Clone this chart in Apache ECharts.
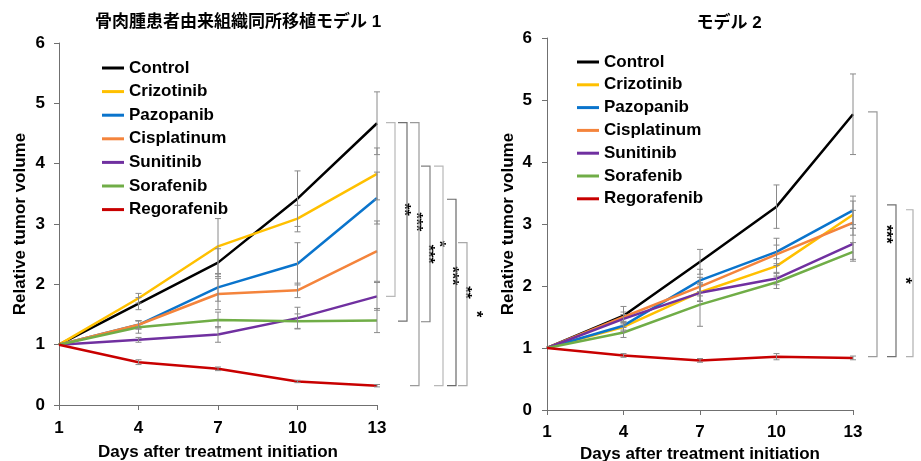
<!DOCTYPE html>
<html>
<head>
<meta charset="utf-8">
<script src="https://cdn.jsdelivr.net/npm/echarts@6/dist/echarts.min.js"></script>
<style>html,body{margin:0;padding:0;background:#fff}#c{width:921px;height:461px}</style>
</head>
<body>
<div id="c"></div>
<script>
// ---------- data ----------
const days = ['1', '4', '7', '10', '13'];
const names = ['Control', 'Crizotinib', 'Pazopanib', 'Cisplatinum', 'Sunitinib', 'Sorafenib', 'Regorafenib'];
const title1 = '骨肉腫患者由来組織同所移植モデル 1';
const title2 = 'モデル 2';
const xName = 'Days after treatment initiation';
const yName = 'Relative tumor volume';

// model 1 means
const m1Control     = [1, 1.68, 2.36, 3.42, 4.67];
const m1Crizotinib  = [1, 1.77, 2.63, 3.09, 3.83];
const m1Pazopanib   = [1, 1.33, 1.95, 2.34, 3.43];
const m1Cisplatinum = [1, 1.33, 1.84, 1.90, 2.55];
const m1Sunitinib   = [1, 1.08, 1.17, 1.44, 1.80];
const m1Sorafenib   = [1, 1.29, 1.41, 1.39, 1.40];
const m1Regorafenib = [1, 0.71, 0.60, 0.39, 0.32];
// model 1 error (±)
const m1ControlErr     = [0, 0.10, 0.23, 0.46, 0.52];
const m1CrizotinibErr  = [0, 0.08, 0.46, 0.22, 0.43];
const m1PazopanibErr   = [0, 0.07, 0.23, 0.35, 0.43];
const m1CisplatinumErr = [0, 0.07, 0.26, 0.12, 0.50];
const m1SunitinibErr   = [0, 0.04, 0.13, 0.18, 0.23];
const m1SorafenibErr   = [0, 0.10, 0.13, 0.12, 0.20];
const m1RegorafenibErr = [0, 0.04, 0.03, 0.02, 0.02];

// model 2 means
const m2Control     = [1, 1.52, 2.39, 3.28, 4.77];
const m2Crizotinib  = [1, 1.34, 1.90, 2.32, 3.15];
const m2Pazopanib   = [1, 1.36, 2.09, 2.55, 3.22];
const m2Cisplatinum = [1, 1.50, 1.99, 2.51, 3.02];
const m2Sunitinib   = [1, 1.47, 1.89, 2.12, 2.68];
const m2Sorafenib   = [1, 1.25, 1.70, 2.06, 2.55];
const m2Regorafenib = [1, 0.88, 0.80, 0.86, 0.84];
// model 2 error (±)
const m2ControlErr     = [0, 0.15, 0.20, 0.35, 0.65];
const m2CrizotinibErr  = [0, 0.07, 0.15, 0.12, 0.22];
const m2PazopanibErr   = [0, 0.07, 0.18, 0.22, 0.23];
const m2CisplatinumErr = [0, 0.08, 0.15, 0.15, 0.20];
const m2SunitinibErr   = [0, 0.07, 0.13, 0.10, 0.25];
const m2SorafenibErr   = [0, 0.08, 0.35, 0.10, 0.15];
const m2RegorafenibErr = [0, 0.03, 0.03, 0.05, 0.03];

// significance brackets (values at day 13)
const m1BracketTop    = [4.68, 4.68, 4.68, 3.96, 3.96, 3.41, 2.69];
const m1BracketBottom = [1.80, 1.39, 0.32, 1.38, 0.32, 0.32, 0.32];
const m1BracketLabel  = ['**', '***', '***', '*', '***', '**', '*'];
const m2BracketTop    = [4.81, 3.31, 3.23];
const m2BracketBottom = [0.86, 0.86, 0.86];
const m2BracketLabel  = ['***', '*', '*'];

// ---------- styles / layout ----------
const colors = ['#000000', '#FFC000', '#0A74CC', '#F4843C', '#7030A0', '#70AD47', '#C80000'];
const FONT = "'Liberation Sans', Arial, 'Noto Sans CJK JP', sans-serif";
const m1Offsets = [18, 30, 42, 53, 66, 79, 90];
const m1Arms = [9, 9, 9, 9, 9, 9, 9];
const m1BColors = ['#b8b8b8', '#707070', '#9a9a9a', '#808080', '#b8b8b8', '#6a6a6a', '#a8a8a8'];
const m2Offsets = [24, 43, 60];
const m2Arms = [9, 9, 7];
const m2BColors = ['#9a9a9a', '#707070', '#b0b0b0'];

const m1Means = [m1Control, m1Crizotinib, m1Pazopanib, m1Cisplatinum, m1Sunitinib, m1Sorafenib, m1Regorafenib];
const m1Errs = [m1ControlErr, m1CrizotinibErr, m1PazopanibErr, m1CisplatinumErr, m1SunitinibErr, m1SorafenibErr, m1RegorafenibErr];
const m2Means = [m2Control, m2Crizotinib, m2Pazopanib, m2Cisplatinum, m2Sunitinib, m2Sorafenib, m2Regorafenib];
const m2Errs = [m2ControlErr, m2CrizotinibErr, m2PazopanibErr, m2CisplatinumErr, m2SunitinibErr, m2SorafenibErr, m2RegorafenibErr];

function lineSeries(idx, means) {
  return means.map((d, i) => ({
    name: names[i], type: 'line', xAxisIndex: idx, yAxisIndex: idx,
    data: d, symbol: 'none', color: colors[i],
    lineStyle: { width: 2.5, color: colors[i] }, z: 2 + i * 0.01, silent: true
  }));
}

function errSeries(idx, means, errs) {
  const data = [];
  means.forEach((d, s) => d.forEach((v, k) => {
    if (errs[s][k] > 0) data.push([k, v - errs[s][k], v + errs[s][k]]);
  }));
  return {
    type: 'custom', xAxisIndex: idx, yAxisIndex: idx, silent: true, z: 4,
    data: data,
    renderItem: function (params, api) {
      const lo = api.coord([api.value(0), api.value(1)]);
      const hi = api.coord([api.value(0), api.value(2)]);
      const st = { stroke: '#8a8a8a', lineWidth: 1 };
      const w = 3;
      return { type: 'group', children: [
        { type: 'line', shape: { x1: lo[0], y1: lo[1], x2: hi[0], y2: hi[1] }, style: st },
        { type: 'line', shape: { x1: lo[0] - w, y1: lo[1], x2: lo[0] + w, y2: lo[1] }, style: st },
        { type: 'line', shape: { x1: hi[0] - w, y1: hi[1], x2: hi[0] + w, y2: hi[1] }, style: st }
      ]};
    }
  };
}

function bracketSeries(idx, tops, bottoms, labels, offsets, arms, bcolors) {
  return {
    type: 'custom', xAxisIndex: idx, yAxisIndex: idx, silent: true, clip: false, z: 5,
    data: tops.map((t, i) => [4, t, bottoms[i], i]),
    renderItem: function (params, api) {
      const i = api.value(3);
      const top = api.coord([api.value(0), api.value(1)]);
      const bot = api.coord([api.value(0), api.value(2)]);
      const x = top[0] + offsets[i];
      const a = arms[i];
      const st = { stroke: bcolors[i], lineWidth: 1.2 };
      return { type: 'group', children: [
        { type: 'polyline', shape: { points: [[x - a, top[1]], [x, top[1]], [x, bot[1]], [x - a, bot[1]]] }, style: Object.assign({ fill: null }, st) },
        { type: 'text', x: x + 8, y: (top[1] + bot[1]) / 2, rotation: -Math.PI / 2,
          style: { text: labels[i], fill: '#000', font: 'bold 16px ' + FONT, align: 'center', verticalAlign: 'middle', textAlign: 'center', textVerticalAlign: 'middle' } }
      ]};
    }
  };
}

function xAxis(idx, gridIdx, gap, margin) {
  return {
    type: 'category', gridIndex: gridIdx, data: days, boundaryGap: false,
    name: xName, nameLocation: 'middle', nameGap: gap,
    nameTextStyle: { color: '#000', fontSize: 17, fontWeight: 'bold', fontFamily: FONT },
    axisLine: { show: true, lineStyle: { color: '#707070', width: 1 } },
    axisTick: { show: true, alignWithLabel: true, length: 5, lineStyle: { color: '#707070' } },
    axisLabel: { color: '#000', fontSize: 17, fontWeight: 'bold', fontFamily: FONT, margin: margin },
    splitLine: { show: false }
  };
}
function yAxis(gridIdx, margin) {
  return {
    type: 'value', gridIndex: gridIdx, min: 0, max: 6, interval: 1,
    name: yName, nameLocation: 'middle', nameGap: 30, nameRotate: 90,
    nameTextStyle: { color: '#000', fontSize: 17, fontWeight: 'bold', fontFamily: FONT },
    axisLine: { show: true, lineStyle: { color: '#707070', width: 1 } },
    axisTick: { show: true, length: 5, lineStyle: { color: '#707070' } },
    axisLabel: { color: '#000', fontSize: 17, fontWeight: 'bold', fontFamily: FONT, margin: margin },
    splitLine: { show: false }
  };
}
function legend(left, top, gap) {
  return {
    orient: 'vertical', left: left, top: top, itemWidth: 22, itemHeight: 3, itemGap: gap,
    padding: 0, icon: 'rect', selectedMode: false, data: names,
    textStyle: { color: '#000', fontSize: 17, fontWeight: 'bold', fontFamily: FONT, lineHeight: 20 }
  };
}

const chart = echarts.init(document.getElementById('c'), null, { renderer: 'canvas' });
chart.setOption({
  animation: false,
  backgroundColor: '#fff',
  grid: [
    { left: 59, top: 43, width: 318, height: 362, containLabel: false, outerBoundsMode: 'none' },
    { left: 547, top: 38, width: 306, height: 372, containLabel: false, outerBoundsMode: 'none' }
  ],
  xAxis: [xAxis(0, 0, 39, 15), xAxis(1, 1, 36, 14)],
  yAxis: [yAxis(0, 14), yAxis(1, 15)],
  legend: [legend(102, 58, 3.6), legend(577, 52, 2.8)],
  graphic: [
    { type: 'text', x: 238, y: 22, style: { text: title1, font: 'bold 17px ' + FONT, fill: '#000', align: 'center', verticalAlign: 'middle', textAlign: 'center', textVerticalAlign: 'middle' } },
    { type: 'text', x: 729, y: 23, style: { text: title2, font: 'bold 17px ' + FONT, fill: '#000', align: 'center', verticalAlign: 'middle', textAlign: 'center', textVerticalAlign: 'middle' } }
  ],
  series: [].concat(
    lineSeries(0, m1Means),
    lineSeries(1, m2Means),
    [errSeries(0, m1Means, m1Errs), errSeries(1, m2Means, m2Errs),
     bracketSeries(0, m1BracketTop, m1BracketBottom, m1BracketLabel, m1Offsets, m1Arms, m1BColors),
     bracketSeries(1, m2BracketTop, m2BracketBottom, m2BracketLabel, m2Offsets, m2Arms, m2BColors)]
  )
});
</script>
</body>
</html>
